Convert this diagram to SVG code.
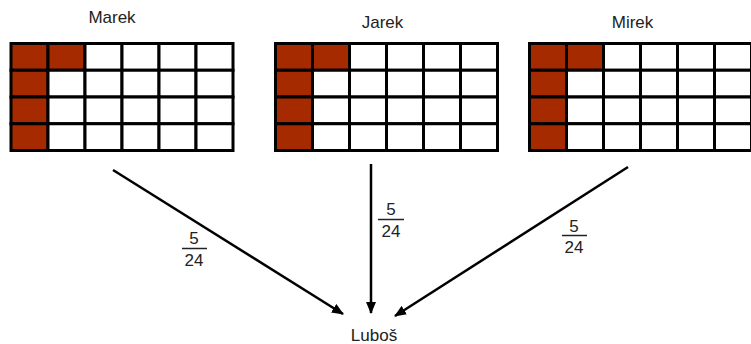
<svg xmlns="http://www.w3.org/2000/svg" width="751" height="344" viewBox="0 0 751 344">
<defs>
<style>
.name{font-family:"Liberation Sans",Arial,sans-serif;font-size:17px;fill:#222;text-anchor:middle}
.frac{font-family:"Liberation Sans",Arial,sans-serif;font-size:17px;fill:#222;text-anchor:middle}
.cell{fill:#ffffff;stroke:#000;stroke-width:3}
.on{fill:#a62a00;stroke:#000;stroke-width:3}
.arrow{stroke:#000;stroke-width:2.5;fill:none;marker-end:url(#ah)}
.bar{stroke:#222;stroke-width:1.5}
</style>
<marker id="ah" viewBox="0 0 12 10" refX="11" refY="5" markerWidth="12" markerHeight="10" markerUnits="userSpaceOnUse" orient="auto">
<path d="M0,0 L12,5 L0,10 Z" fill="#000"/>
</marker>
<g id="grid">
<rect class="on" x="0" y="0" width="37" height="26.75"/>
<rect class="on" x="37" y="0" width="37" height="26.75"/>
<rect class="cell" x="74" y="0" width="37" height="26.75"/>
<rect class="cell" x="111" y="0" width="37" height="26.75"/>
<rect class="cell" x="148" y="0" width="37" height="26.75"/>
<rect class="cell" x="185" y="0" width="37" height="26.75"/>
<rect class="on" x="0" y="26.75" width="37" height="26.75"/>
<rect class="cell" x="37" y="26.75" width="37" height="26.75"/>
<rect class="cell" x="74" y="26.75" width="37" height="26.75"/>
<rect class="cell" x="111" y="26.75" width="37" height="26.75"/>
<rect class="cell" x="148" y="26.75" width="37" height="26.75"/>
<rect class="cell" x="185" y="26.75" width="37" height="26.75"/>
<rect class="on" x="0" y="53.5" width="37" height="26.75"/>
<rect class="cell" x="37" y="53.5" width="37" height="26.75"/>
<rect class="cell" x="74" y="53.5" width="37" height="26.75"/>
<rect class="cell" x="111" y="53.5" width="37" height="26.75"/>
<rect class="cell" x="148" y="53.5" width="37" height="26.75"/>
<rect class="cell" x="185" y="53.5" width="37" height="26.75"/>
<rect class="on" x="0" y="80.25" width="37" height="26.75"/>
<rect class="cell" x="37" y="80.25" width="37" height="26.75"/>
<rect class="cell" x="74" y="80.25" width="37" height="26.75"/>
<rect class="cell" x="111" y="80.25" width="37" height="26.75"/>
<rect class="cell" x="148" y="80.25" width="37" height="26.75"/>
<rect class="cell" x="185" y="80.25" width="37" height="26.75"/>
</g>
</defs>
<rect width="751" height="344" fill="#fff"/>
<g id="marek">
<text class="name" x="112" y="23">Marek</text>
<use href="#grid" x="11" y="43.5"/>
</g>
<g id="jarek">
<text class="name" x="382.5" y="28">Jarek</text>
<use href="#grid" x="275.5" y="43.5"/>
</g>
<g id="mirek">
<text class="name" x="632.5" y="28">Mirek</text>
<use href="#grid" x="529.5" y="43.5"/>
</g>
<g id="lubos">
<text class="name" x="374" y="341">Luboš</text>
</g>
<g id="connectors">
<line class="arrow" x1="113" y1="170" x2="343" y2="314"/>
<line class="arrow" x1="371" y1="164" x2="371" y2="313"/>
<line class="arrow" x1="628" y1="167" x2="395" y2="316"/>
<g id="frac-left">
<text class="frac" x="194" y="244">5</text>
<line class="bar" x1="182" y1="248.5" x2="207" y2="248.5"/>
<text class="frac" x="194" y="266">24</text>
</g>
<g id="frac-mid">
<text class="frac" x="391" y="215">5</text>
<line class="bar" x1="378" y1="219.5" x2="404" y2="219.5"/>
<text class="frac" x="391" y="237">24</text>
</g>
<g id="frac-right">
<text class="frac" x="574" y="232">5</text>
<line class="bar" x1="562" y1="235.5" x2="587" y2="235.5"/>
<text class="frac" x="574" y="253">24</text>
</g>
</g>
</svg>
